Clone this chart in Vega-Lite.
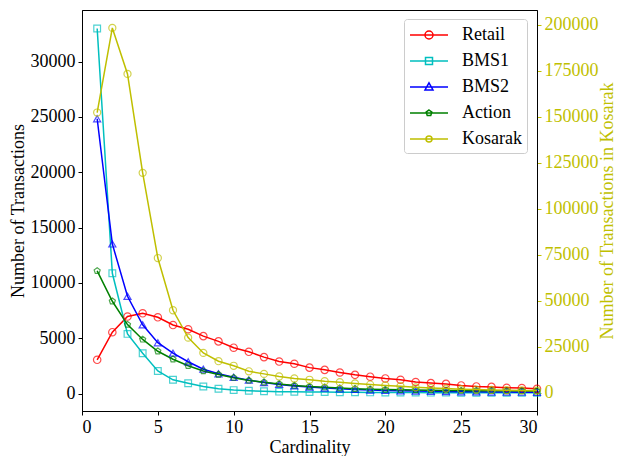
{
  "$schema": "https://vega.github.io/schema/vega-lite/v6.json",
  "width": 455,
  "height": 401,
  "autosize": {"type": "none"},
  "padding": {"left": 82, "top": 10, "right": 80, "bottom": 45},
  "background": "white",
  "config": {
    "font": "Liberation Serif",
    "view": {"stroke": "black", "strokeWidth": 1},
    "axis": {
      "labelFont": "Liberation Serif",
      "titleFont": "Liberation Serif",
      "labelFontSize": 18,
      "titleFontSize": 18,
      "titleFontWeight": "normal",
      "labelColor": "black",
      "titleColor": "black",
      "tickColor": "black",
      "domainColor": "black",
      "tickSize": 4,
      "labelPadding": 3,
      "grid": false
    }
  },
  "datasets": {
    "main": [
      {"cardinality": 1, "series": "Retail", "value": 3050},
      {"cardinality": 2, "series": "Retail", "value": 5540},
      {"cardinality": 3, "series": "Retail", "value": 6960},
      {"cardinality": 4, "series": "Retail", "value": 7250},
      {"cardinality": 5, "series": "Retail", "value": 6890},
      {"cardinality": 6, "series": "Retail", "value": 6190},
      {"cardinality": 7, "series": "Retail", "value": 5810},
      {"cardinality": 8, "series": "Retail", "value": 5190},
      {"cardinality": 9, "series": "Retail", "value": 4710},
      {"cardinality": 10, "series": "Retail", "value": 4140},
      {"cardinality": 11, "series": "Retail", "value": 3770},
      {"cardinality": 12, "series": "Retail", "value": 3290},
      {"cardinality": 13, "series": "Retail", "value": 2890},
      {"cardinality": 14, "series": "Retail", "value": 2690},
      {"cardinality": 15, "series": "Retail", "value": 2340},
      {"cardinality": 16, "series": "Retail", "value": 2140},
      {"cardinality": 17, "series": "Retail", "value": 1900},
      {"cardinality": 18, "series": "Retail", "value": 1690},
      {"cardinality": 19, "series": "Retail", "value": 1520},
      {"cardinality": 20, "series": "Retail", "value": 1360},
      {"cardinality": 21, "series": "Retail", "value": 1240},
      {"cardinality": 22, "series": "Retail", "value": 1040},
      {"cardinality": 23, "series": "Retail", "value": 940},
      {"cardinality": 24, "series": "Retail", "value": 870},
      {"cardinality": 25, "series": "Retail", "value": 730},
      {"cardinality": 26, "series": "Retail", "value": 640},
      {"cardinality": 27, "series": "Retail", "value": 600},
      {"cardinality": 28, "series": "Retail", "value": 520},
      {"cardinality": 29, "series": "Retail", "value": 500},
      {"cardinality": 30, "series": "Retail", "value": 430},
      {"cardinality": 1, "series": "BMS1", "value": 33000},
      {"cardinality": 2, "series": "BMS1", "value": 10870},
      {"cardinality": 3, "series": "BMS1", "value": 5390},
      {"cardinality": 4, "series": "BMS1", "value": 3640},
      {"cardinality": 5, "series": "BMS1", "value": 2040},
      {"cardinality": 6, "series": "BMS1", "value": 1240},
      {"cardinality": 7, "series": "BMS1", "value": 930},
      {"cardinality": 8, "series": "BMS1", "value": 640},
      {"cardinality": 9, "series": "BMS1", "value": 430},
      {"cardinality": 10, "series": "BMS1", "value": 310},
      {"cardinality": 11, "series": "BMS1", "value": 250},
      {"cardinality": 12, "series": "BMS1", "value": 200},
      {"cardinality": 13, "series": "BMS1", "value": 170},
      {"cardinality": 14, "series": "BMS1", "value": 150},
      {"cardinality": 15, "series": "BMS1", "value": 140},
      {"cardinality": 16, "series": "BMS1", "value": 130},
      {"cardinality": 17, "series": "BMS1", "value": 120},
      {"cardinality": 18, "series": "BMS1", "value": 110},
      {"cardinality": 19, "series": "BMS1", "value": 100},
      {"cardinality": 20, "series": "BMS1", "value": 95},
      {"cardinality": 21, "series": "BMS1", "value": 90},
      {"cardinality": 22, "series": "BMS1", "value": 85},
      {"cardinality": 23, "series": "BMS1", "value": 80},
      {"cardinality": 24, "series": "BMS1", "value": 78},
      {"cardinality": 25, "series": "BMS1", "value": 75},
      {"cardinality": 26, "series": "BMS1", "value": 73},
      {"cardinality": 27, "series": "BMS1", "value": 72},
      {"cardinality": 28, "series": "BMS1", "value": 70},
      {"cardinality": 29, "series": "BMS1", "value": 70},
      {"cardinality": 30, "series": "BMS1", "value": 68},
      {"cardinality": 1, "series": "BMS2", "value": 24840},
      {"cardinality": 2, "series": "BMS2", "value": 13520},
      {"cardinality": 3, "series": "BMS2", "value": 8790},
      {"cardinality": 4, "series": "BMS2", "value": 6210},
      {"cardinality": 5, "series": "BMS2", "value": 4590},
      {"cardinality": 6, "series": "BMS2", "value": 3650},
      {"cardinality": 7, "series": "BMS2", "value": 2870},
      {"cardinality": 8, "series": "BMS2", "value": 2200},
      {"cardinality": 9, "series": "BMS2", "value": 1790},
      {"cardinality": 10, "series": "BMS2", "value": 1470},
      {"cardinality": 11, "series": "BMS2", "value": 1210},
      {"cardinality": 12, "series": "BMS2", "value": 990},
      {"cardinality": 13, "series": "BMS2", "value": 820},
      {"cardinality": 14, "series": "BMS2", "value": 690},
      {"cardinality": 15, "series": "BMS2", "value": 580},
      {"cardinality": 16, "series": "BMS2", "value": 490},
      {"cardinality": 17, "series": "BMS2", "value": 420},
      {"cardinality": 18, "series": "BMS2", "value": 370},
      {"cardinality": 19, "series": "BMS2", "value": 320},
      {"cardinality": 20, "series": "BMS2", "value": 280},
      {"cardinality": 21, "series": "BMS2", "value": 250},
      {"cardinality": 22, "series": "BMS2", "value": 220},
      {"cardinality": 23, "series": "BMS2", "value": 200},
      {"cardinality": 24, "series": "BMS2", "value": 180},
      {"cardinality": 25, "series": "BMS2", "value": 160},
      {"cardinality": 26, "series": "BMS2", "value": 150},
      {"cardinality": 27, "series": "BMS2", "value": 140},
      {"cardinality": 28, "series": "BMS2", "value": 130},
      {"cardinality": 29, "series": "BMS2", "value": 120},
      {"cardinality": 30, "series": "BMS2", "value": 110},
      {"cardinality": 1, "series": "Action", "value": 11090},
      {"cardinality": 2, "series": "Action", "value": 8340},
      {"cardinality": 3, "series": "Action", "value": 6230},
      {"cardinality": 4, "series": "Action", "value": 4890},
      {"cardinality": 5, "series": "Action", "value": 3820},
      {"cardinality": 6, "series": "Action", "value": 3100},
      {"cardinality": 7, "series": "Action", "value": 2510},
      {"cardinality": 8, "series": "Action", "value": 2030},
      {"cardinality": 9, "series": "Action", "value": 1720},
      {"cardinality": 10, "series": "Action", "value": 1430},
      {"cardinality": 11, "series": "Action", "value": 1180},
      {"cardinality": 12, "series": "Action", "value": 1020},
      {"cardinality": 13, "series": "Action", "value": 870},
      {"cardinality": 14, "series": "Action", "value": 730},
      {"cardinality": 15, "series": "Action", "value": 630},
      {"cardinality": 16, "series": "Action", "value": 570},
      {"cardinality": 17, "series": "Action", "value": 490},
      {"cardinality": 18, "series": "Action", "value": 430},
      {"cardinality": 19, "series": "Action", "value": 390},
      {"cardinality": 20, "series": "Action", "value": 360},
      {"cardinality": 21, "series": "Action", "value": 340},
      {"cardinality": 22, "series": "Action", "value": 320},
      {"cardinality": 23, "series": "Action", "value": 300},
      {"cardinality": 24, "series": "Action", "value": 280},
      {"cardinality": 25, "series": "Action", "value": 270},
      {"cardinality": 26, "series": "Action", "value": 260},
      {"cardinality": 27, "series": "Action", "value": 250},
      {"cardinality": 28, "series": "Action", "value": 240},
      {"cardinality": 29, "series": "Action", "value": 230},
      {"cardinality": 30, "series": "Action", "value": 220}
    ],
    "kosarak": [
      {"cardinality": 1, "series": "Kosarak", "value": 152400},
      {"cardinality": 2, "series": "Kosarak", "value": 198400},
      {"cardinality": 3, "series": "Kosarak", "value": 173400},
      {"cardinality": 4, "series": "Kosarak", "value": 119600},
      {"cardinality": 5, "series": "Kosarak", "value": 73300},
      {"cardinality": 6, "series": "Kosarak", "value": 44900},
      {"cardinality": 7, "series": "Kosarak", "value": 30000},
      {"cardinality": 8, "series": "Kosarak", "value": 21700},
      {"cardinality": 9, "series": "Kosarak", "value": 17200},
      {"cardinality": 10, "series": "Kosarak", "value": 14700},
      {"cardinality": 11, "series": "Kosarak", "value": 11700},
      {"cardinality": 12, "series": "Kosarak", "value": 10300},
      {"cardinality": 13, "series": "Kosarak", "value": 8900},
      {"cardinality": 14, "series": "Kosarak", "value": 7800},
      {"cardinality": 15, "series": "Kosarak", "value": 7100},
      {"cardinality": 16, "series": "Kosarak", "value": 6300},
      {"cardinality": 17, "series": "Kosarak", "value": 5800},
      {"cardinality": 18, "series": "Kosarak", "value": 5100},
      {"cardinality": 19, "series": "Kosarak", "value": 4500},
      {"cardinality": 20, "series": "Kosarak", "value": 4000},
      {"cardinality": 21, "series": "Kosarak", "value": 3600},
      {"cardinality": 22, "series": "Kosarak", "value": 3000},
      {"cardinality": 23, "series": "Kosarak", "value": 2600},
      {"cardinality": 24, "series": "Kosarak", "value": 2300},
      {"cardinality": 25, "series": "Kosarak", "value": 2000},
      {"cardinality": 26, "series": "Kosarak", "value": 1800},
      {"cardinality": 27, "series": "Kosarak", "value": 1600},
      {"cardinality": 28, "series": "Kosarak", "value": 1400},
      {"cardinality": 29, "series": "Kosarak", "value": 1300},
      {"cardinality": 30, "series": "Kosarak", "value": 1200}
    ]
  },
  "encoding": {
    "x": {
      "field": "cardinality",
      "type": "quantitative",
      "scale": {"domain": [0, 30], "nice": false, "zero": false},
      "axis": {"title": "Cardinality", "values": [0, 5, 10, 15, 20, 25, 30], "titlePadding": 2}
    },
    "color": {
      "field": "series",
      "type": "nominal",
      "scale": {"domain": ["Retail", "BMS1", "BMS2", "Action", "Kosarak"], "range": ["#ff0000", "#00bfbf", "#0000ff", "#008000", "#bfbf00"]},
      "legend": {
        "title": null,
        "orient": "none",
        "legendX": 322,
        "legendY": 9,
        "padding": 5,
        "fillColor": "white",
        "strokeColor": "#cccccc",
        "cornerRadius": 3,
        "labelFont": "Liberation Serif",
        "labelFontSize": 18,
        "labelColor": "black",
        "labelOffset": 31,
        "rowPadding": 6,
        "symbolSize": 400,
        "symbolStrokeWidth": 1.5,
        "encode": {
          "symbols": {
            "update": {
              "shape": {"signal": "datum.value === 'Retail' ? 'M-1,0L2.8,0M0.5,0A0.4,0.4 0 1,1 1.3,0A0.4,0.4 0 1,1 0.5,0' : datum.value === 'BMS1' ? 'M-1,0L2.8,0M0.55,-0.35L1.25,-0.35L1.25,0.35L0.55,0.35Z' : datum.value === 'BMS2' ? 'M-1,0L2.8,0M0.9,-0.42L1.3,0.3L0.5,0.3Z' : datum.value === 'Action' ? 'M-1,0L2.8,0M0.9,-0.3L1.185,-0.093L1.076,0.243L0.724,0.243L0.615,-0.093Z' : 'M-1,0L2.8,0M0.6,0A0.3,0.3 0 1,1 1.2,0A0.3,0.3 0 1,1 0.6,0'"},
              "fill": {"value": "transparent"},
              "size": {"value": 400},
              "strokeWidth": {"value": 1.5}
            }
          }
        }
      }
    }
  },
  "layer": [
    {
      "data": {"name": "main"},
      "encoding": {
        "y": {
          "field": "value",
          "type": "quantitative",
          "scale": {"domain": [-1580, 34667], "nice": false, "zero": false},
          "axis": {"title": "Number of Transactions", "values": [0, 5000, 10000, 15000, 20000, 25000, 30000], "format": "d", "titlePadding": 3}
        }
      },
      "layer": [
        {"mark": {"type": "line", "strokeWidth": 1.5}},
        {
          "transform": [{"filter": "datum.series === 'Retail'"}],
          "mark": {"type": "point", "shape": "circle", "filled": false, "strokeWidth": 1.2, "size": 55}
        },
        {
          "transform": [{"filter": "datum.series === 'BMS1'"}],
          "mark": {"type": "point", "shape": "square", "filled": false, "strokeWidth": 1.2, "size": 45}
        },
        {
          "transform": [{"filter": "datum.series === 'BMS2'"}],
          "mark": {"type": "point", "shape": "triangle-up", "filled": false, "strokeWidth": 1.2, "size": 50}
        },
        {
          "transform": [{"filter": "datum.series === 'Action'"}],
          "mark": {"type": "point", "shape": "M0,-1L0.951,-0.309L0.588,0.809L-0.588,0.809L-0.951,-0.309Z", "filled": false, "strokeWidth": 1.2, "size": 40}
        }
      ]
    },
    {
      "data": {"name": "kosarak"},
      "encoding": {
        "y": {
          "field": "value",
          "type": "quantitative",
          "scale": {"domain": [-9880, 208150], "nice": false, "zero": false},
          "axis": {
            "orient": "right",
            "title": "Number of Transactions in Kosarak",
            "titleAngle": 270,
            "titleBaseline": "top",
            "values": [0, 25000, 50000, 75000, 100000, 125000, 150000, 175000, 200000],
            "format": "d",
            "labelColor": "#bfbf00",
            "titleColor": "#bfbf00",
            "tickColor": "#bfbf00",
            "labelPadding": 3,
            "titlePadding": 0
          }
        }
      },
      "layer": [
        {"mark": {"type": "line", "strokeWidth": 1.5}},
        {"mark": {"type": "point", "shape": "circle", "filled": false, "strokeWidth": 1.2, "size": 50}}
      ]
    }
  ],
  "resolve": {"scale": {"y": "independent"}}
}
